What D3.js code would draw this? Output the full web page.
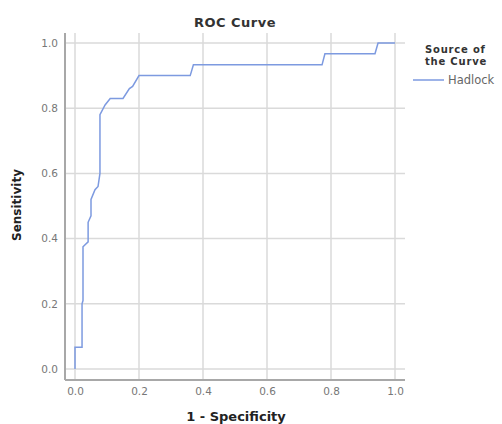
<!DOCTYPE html>
<html>
<head>
<meta charset="utf-8">
<script src="https://cdn.jsdelivr.net/npm/d3@7"></script>
<style>
  body { margin: 0; background: #fff; }
  svg { display: block; font-family: 'DejaVu Sans', sans-serif; }
</style>
</head>
<body>
<div id="chart"></div>
<script>
// ROC curve data (1 - specificity, sensitivity)
const fpr = [0, 0, 0.022, 0.022, 0.025, 0.025, 0.041, 0.041, 0.05, 0.05, 0.0625, 0.072, 0.078, 0.078,
  0.094, 0.11, 0.15, 0.17, 0.18, 0.2, 0.36, 0.37, 0.772, 0.781, 0.9375, 0.947, 1];
const sens = [0, 0.067, 0.067, 0.2, 0.21, 0.375, 0.39, 0.45, 0.47, 0.52, 0.55, 0.56, 0.6, 0.78,
  0.81, 0.83, 0.83, 0.86, 0.867, 0.9, 0.9, 0.933, 0.933, 0.967, 0.967, 1, 1];
const ticks = [0, 0.2, 0.4, 0.6, 0.8, 1.0];
const seriesName = 'Hadlock';

const width = 502;
const height = 424;

const svg = d3.select('#chart')
  .append('svg')
  .attr('width', width)
  .attr('height', height);

const x = d3.scaleLinear().domain([0, 1]).range([75, 395]);
const y = d3.scaleLinear().domain([0, 1]).range([369, 43]);

// frame bounds
const frame = { left: 65, right: 405, top: 33, bottom: 380 };

// gridlines
svg.append('g')
  .selectAll('line')
  .data(ticks)
  .join('line')
  .attr('x1', frame.left).attr('x2', frame.right)
  .attr('y1', d => y(d)).attr('y2', d => y(d))
  .style('stroke', '#dadada')
  .style('stroke-width', 1.5);

svg.append('g')
  .selectAll('line')
  .data(ticks)
  .join('line')
  .attr('x1', d => x(d)).attr('x2', d => x(d))
  .attr('y1', frame.top).attr('y2', frame.bottom)
  .style('stroke', '#dadada')
  .style('stroke-width', 1.5);

// axes (labels only, lines drawn separately)
const xAxis = svg.append('g')
  .attr('transform', 'translate(0,' + frame.bottom + ')')
  .call(d3.axisBottom(x).tickValues(ticks).tickFormat(d3.format('.1f')).tickSize(0).tickPadding(8));
const yAxis = svg.append('g')
  .attr('transform', 'translate(' + frame.left + ',0)')
  .call(d3.axisLeft(y).tickValues(ticks).tickFormat(d3.format('.1f')).tickSize(0).tickPadding(7));
[xAxis, yAxis].forEach(a => {
  a.select('.domain').remove();
  a.selectAll('text')
    .style('font-family', "'DejaVu Sans', sans-serif")
    .style('font-size', '10.5px')
    .style('fill', '#777');
});

svg.append('line')
  .attr('x1', frame.left).attr('x2', frame.left)
  .attr('y1', frame.top).attr('y2', frame.bottom)
  .style('stroke', '#a8a8a8')
  .style('stroke-width', 2);
svg.append('line')
  .attr('x1', frame.left).attr('x2', frame.right)
  .attr('y1', frame.bottom).attr('y2', frame.bottom)
  .style('stroke', '#a8a8a8')
  .style('stroke-width', 2);

// curve
const pts = fpr.map((f, i) => [f, sens[i]]);
svg.append('path')
  .datum(pts)
  .attr('d', d3.line().x(d => x(d[0])).y(d => y(d[1])))
  .style('fill', 'none')
  .style('stroke', '#7d9ae0')
  .style('stroke-width', 1.5);

// title and axis labels
svg.append('text')
  .text('ROC Curve')
  .attr('x', 235).attr('y', 27)
  .attr('text-anchor', 'middle')
  .style('font-size', '13px')
  .style('font-weight', 'bold')
  .style('letter-spacing', '0.5px')
  .style('fill', '#333');

svg.append('text')
  .text('1 - Specificity')
  .attr('x', 236).attr('y', 421)
  .attr('text-anchor', 'middle')
  .style('font-size', '13px')
  .style('font-weight', 'bold')
  .style('fill', '#222');

svg.append('text')
  .text('Sensitivity')
  .attr('transform', 'translate(21,205) rotate(-90)')
  .attr('text-anchor', 'middle')
  .style('font-size', '12px')
  .style('font-weight', 'bold')
  .style('fill', '#222');

// legend
svg.append('text')
  .text('Source of')
  .attr('x', 425).attr('y', 53)
  .style('font-size', '10px')
  .style('font-weight', 'bold')
  .style('letter-spacing', '0.8px')
  .style('fill', '#333');
svg.append('text')
  .text('the Curve')
  .attr('x', 425).attr('y', 65)
  .style('font-size', '10px')
  .style('font-weight', 'bold')
  .style('letter-spacing', '0.8px')
  .style('fill', '#333');
svg.append('line')
  .attr('x1', 413).attr('x2', 444)
  .attr('y1', 80).attr('y2', 80)
  .style('stroke', '#7d9ae0')
  .style('stroke-width', 1.5);
svg.append('text')
  .text(seriesName)
  .attr('x', 448).attr('y', 84)
  .style('font-size', '11.5px')
  .style('fill', '#666');
</script>
</body>
</html>
